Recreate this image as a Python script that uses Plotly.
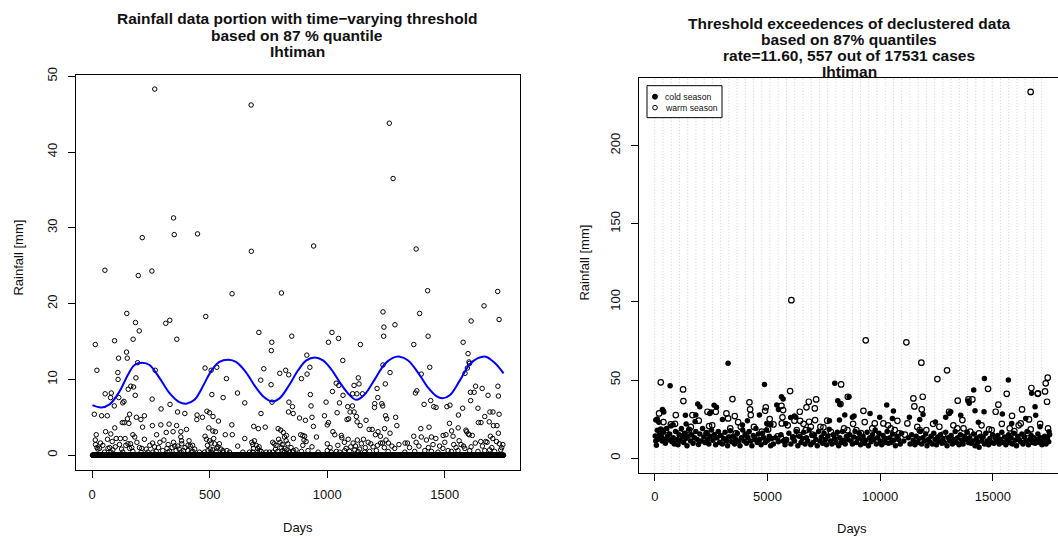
import plotly.graph_objects as go

W, H = 1058, 538
FONT = "Liberation Sans, Arial, Helvetica, sans-serif"

# ---------------- Left panel data (daily rainfall, days 1..1750) ----------------
n_days = 1750
# (day, rainfall mm) for wet days; all other days are 0
left_high = [(266,48.3),(676,46.2),(346,31.3),(349,29.1),(448,29.2),(213,28.7),(677,26.9),
             (54,24.4),(196,23.7),(254,24.3),(595,21.3),(805,21.4),(147,18.7),(483,18.3),
             (184,17.5),(313,17.4),(330,17.8),(200,16.4),(709,16.2),(360,15.3),(95,15.1),
             (174,15.3),(849,15.7),(13,14.6),(764,14.9),(146,13.6),(762,13.8),(112,12.8),
             (149,12.8),(193,12.2),(20,11.2),(480,11.5),(506,11.2),(530,11.6),(730,11.4),
             (823,11.2),(109,10.9),(268,11.2),(798,10.8),(836,10.6),(110,10.0),(186,10.2),
             (571,10.1),(717,9.9),(761,9.3),(164,9.1),(176,9.0),(153,8.7),(183,7.9),(255,7.4),
             (55,8.1),(81,8.2),(618,8.2),(509,8.0),(557,7.6),(78,7.6),(113,7.6),(94,6.5),
             (135,7.1),(130,6.9),(649,6.9),(765,7.0),(837,7.0),(852,6.4),(293,6.1),(331,6.7),
             (9,5.4),(40,5.2),(64,5.2),(159,5.4),(150,4.8),(188,5.0),(222,5.2),(207,4.7),
             (363,5.7),(394,5.5),(446,5.3),(469,5.0),(488,5.8),(499,5.6),(537,4.5),(445,4.7),
             (514,5.1),(718,5.5),(855,5.5),(835,5.7),(687,3.8),(707,3.5),(736,3.7),(791,3.5),
             (802,3.3),(594,4.0),(256,3.9),(292,4.0),(327,4.1),(359,3.9),(136,4.3),(156,4.2),
             (214,3.7),(96,3.6),(128,4.3),(57,3.1),(79,2.8),(17,2.7),(274,2.7),(315,3.0),
             (344,3.1),(377,3.1),(401,3.4),(496,3.6),(513,3.2),(524,3.1),(566,2.7),(596,2.7),
             (813,3.0),(826,2.6),(856,2.2)]
left_low = [(65,2.1),(102,2.2),(120,2.2),(140,2.2),(152,1.5),(163,1.5),(181,2.4),(173,2.7),
            (222,2.1),(201,1.0),(211,0.9),(257,1.6),(265,1.1),(288,1.7),(323,1.4),(340,1.0),
            (351,1.2),(364,1.2),(377,2.4),(380,1.9),(381,1.5),(388,0.6),(407,1.3),(417,1.2),
            (427,1.3),(480,2.5),(486,2.1),(499,1.9),(506,1.6),(517,2.2),(530,0.9),(541,1.5),
            (556,0.6),(573,0.6),(619,1.2),(649,2.2),(679,1.7),(683,1.4),(686,0.9),(704,0.9),
            (713,0.6),(768,1.7),(774,1.5),(782,1.3),(799,1.7),(804,1.0),(818,2.4),(825,1.9),
            (828,0.7),(856,0.6),(13,2.0),(14,1.4),(20,1.0),(31,0.9),(45,1.3),(67,0.9),(74,1.0),
            (88,0.7),(116,1.4),(159,0.9),(173,0.5),(272,0.5),(300,0.6),(329,0.5),(357,0.6),
            (407,0.6),(428,0.5),(456,0.4),(492,0.6),(513,0.7),(527,0.5),(584,0.4),(641,0.4),
            (669,0.4),(719,0.5),(754,0.4),(789,0.5),(811,0.6),(839,0.4),(867,0.7),
            (52,0.4),(80,0.4),(130,0.4),(208,0.4),(237,0.4),(258,0.4),(322,0.4),(378,0.4),
            (421,0.4),(478,0.4),(506,0.4),(556,0.4),(683,0.4),(704,0.4),(740,0.4),(768,0.4),
            (818,0.4),(853,0.4),
            (24,0.8),(35,1.6),(85,1.8),(98,1.1),(125,0.8),(143,1.3),(168,1.0),(190,1.7),
            (230,0.8),(245,1.3),(282,1.0),(305,2.0),(318,0.9),(346,1.7),(370,0.8),(395,1.0),
            (412,1.9),(436,0.8),(490,1.3),(502,0.8),(521,1.5),(535,1.1),(548,0.8),(690,1.9),
            (698,1.3),(710,1.1),(780,0.8),(793,2.1),(808,1.4),(820,0.9),(832,1.5),(846,1.0)]
right_high = [(1264,43.8),(1280,36.5),(942,27.6),(1378,27.2),(1427,21.7),(1725,21.6),(1667,19.7),
              (1393,18.7),(1237,18.9),(1731,17.9),(1612,17.7),(1288,17.2),(1241,16.9),(1020,16.2),
              (1240,15.7),(1429,15.7),(1048,15.4),(1005,14.9),(1368,14.6),(1141,14.6),(1578,14.9),
              (913,13.2),(1599,13.4),(1066,12.5),(1603,12.3),(1605,12.1),(1237,11.9),(1436,11.6),
              (926,11.6),(1596,11.5),(890,10.1),(914,10.7),(1132,10.2),(1267,10.9),(1400,10.7),
              (1586,10.8),(1038,9.5),(1049,9.2),(1247,9.4),(1726,9.1),(928,8.0),(1022,8.4),
              (1114,9.2),(1135,9.4),(1108,8.1),(1126,8.1),(1150,8.1),(1067,7.9),(1212,8.8),
              (1381,8.5),(1375,8.2),(1631,9.1),(1659,8.8),(1609,8.3),(1625,8.3),(1684,7.9),
              (1728,7.8),(1215,7.6),(1610,7.2),(1412,6.7),(1440,7.2),(1453,6.4),(1463,6.3),
              (931,6.5),(995,7.0),(1052,6.9),(1087,6.4),(1107,6.5),(1202,6.8),(1232,6.8),
              (1236,6.5),(1201,6.3),(1509,6.4),(1522,6.6),(1576,6.2),(1641,6.2),(1042,5.6),
              (1097,5.7),(1114,5.7),(882,4.9),(907,4.6),(935,5.0),(988,5.2),(1084,4.7),
              (1091,4.8),(1124,5.1),(1165,4.6),(1248,5.2),(1253,4.8),(1291,5.0),(1558,5.3),
              (1692,5.7),(1705,5.7),(1670,5.1),(1731,5.4),(1654,4.3),(1643,4.3),(1005,4.3),
              (1000,4.0),(1127,4.4),(1140,3.9),(1296,3.9),(1520,4.2),(1689,4.4),(1707,3.9),
              (1722,3.9),(941,3.8),(1398,3.5),(1433,3.7),(1529,3.2),(1557,3.6),(1590,3.3),
              (1728,2.9),(1178,3.4),(1191,3.4),(1216,3.1),(1244,3.5)]
right_low = [(887,2.7),(896,2.6),(904,2.5),(954,2.4),(901,2.0),(896,1.3),(1000,1.5),(1024,3.1),
             (1032,2.7),(1060,2.6),(1062,2.3),(1073,1.7),(1089,2.1),(1110,1.6),(1128,2.0),
             (1145,1.5),(1154,2.1),(1174,1.7),(1185,1.5),(1205,2.7),(1226,2.5),(1227,1.6),
             (1235,1.6),(1260,1.6),(1267,2.9),(1305,1.4),(1331,1.6),(1341,1.6),(1368,2.5),
             (1378,1.7),(1400,2.4),(1422,2.0),(1443,2.4),(1450,1.4),(1462,2.2),(1493,2.6),
             (1505,2.7),(1535,2.5),(1538,1.4),(1561,1.9),(1569,1.4),(1593,3.1),(1600,2.8),
             (1604,2.7),(1617,2.6),(1653,1.8),(1674,1.8),(1680,1.7),(1694,2.5),(1704,2.2),
             (1732,1.5),(1747,1.4),
             (890,0.5),(918,0.6),(961,0.4),(1000,0.6),(1017,0.4),(1039,0.5),(1053,0.4),(1074,0.6),
             (1095,0.5),(1117,0.7),(1131,0.5),(1159,0.4),(1180,0.5),(1209,0.6),(1259,0.5),
             (1287,0.9),(1330,0.4),(1372,0.5),(1415,0.6),(1443,0.5),(1471,0.4),(1492,0.9),
             (1514,0.6),(1528,0.5),(1556,0.6),(1585,0.9),(1606,0.6),(1641,0.5),(1670,0.6),
             (1691,0.7),(1712,0.5),(1738,0.7),
             (910,1.8),(935,1.1),(1012,1.0),(1045,1.3),(1080,0.9),(1100,1.1),(1120,1.2),
             (1138,0.8),(1162,1.0),(1195,1.1),(1214,1.3),(1243,1.0),(1250,2.0),(1275,1.2),
             (1350,1.0),(1390,1.2),(1430,1.0),(1478,1.2),(1500,1.7),(1548,1.0),(1580,1.2),
             (1612,1.1),(1630,1.6),(1660,1.2),(1700,1.0),(1720,1.8),(1742,1.0)]

# time-varying threshold (87 % quantile)
thr_days = [1,38,74,116,152,180,213,244,286,329,371,400,435,471,506,541,580,612,655,697,733,
            765,797,839,876,911,947,982,1018,1060,1096,1124,1159,1202,1244,1277,1308,1344,
            1386,1429,1464,1490,1521,1563,1606,1641,1674,1712,1750]
thr_vals = [6.6,6.3,6.7,8.4,10.6,11.9,12.2,11.9,10.2,8.2,7.0,6.8,7.3,9.1,11.1,12.3,12.6,12.3,
            10.9,8.9,7.6,7.1,7.5,9.3,11.2,12.5,12.9,12.5,11.3,9.3,7.9,7.3,8.0,10.0,12.0,12.8,
            13.0,12.5,10.9,8.9,7.8,7.5,7.9,9.8,12.0,12.8,13.0,12.2,10.8]

# ---------------- Right panel data (declustered exceedances, days 1..17531) ----------------
cold_high = [(3254,60.7),(680,46.4),(4867,47.2),(7988,47.9),(340,31.2),(370,30.3),(400,29.5),
             (1908,34.6),(1997,32.9),(2633,33.8),(2737,32.5),(2500,29.5),(2441,28.6),(5414,34.0),
             (5488,31.2),(5621,39.3),(5695,37.8),(6198,26.9),(8121,36.8),(8210,34.5),(8432,27.6),
             (7751,23.9),(8195,24.4),(4645,27.6),(4112,23.9),(1361,27.4),(1820,27.6),(44,24.4),
             (110,25.0),(180,23.0),(814,21.4),(1391,21.8),(1790,23.5),(3003,24.8),(3891,21.2),
             (4970,22.2),(5148,21.6),(5814,22.2),(6257,26.1),(6030,26.0),
             (8622,39.3),(8770,26.1),(8844,26.9),(9553,28.6),(10293,34.0),(9982,26.1),(10589,30.1),
             (10544,25.4),(11298,26.1),(11757,24.8),(11905,28.0),(12452,23.1),(12910,26.1),
             (13132,29.7),(13070,28.5),(13576,27.4),(13901,36.5),(13950,35.2),(14212,30.3),
             (14611,29.7),(14360,22.9),(15425,28.2),(15839,22.2),(16460,25.4),(16903,27.4),
             (16874,32.9),(17096,20.1),(17495,16.9),(14626,50.9),(15690,50.0),(14153,43.6),
             (16726,41.5)]
cold_band = [(20,14.1),(45,10.9),(70,8.3),(110,17.9),(160,12.6),(210,15.8),(260,18.6),(300,13.5),
             (330,11.0),(380,16.5),(420,12.0),(470,9.5),(520,19.0),(560,14.0),(610,11.8),(660,15.5),
             (720,20.5),(760,10.5),(820,13.0),(870,9.0),(920,17.0),(980,12.0),(1030,8.5),(1080,15.0),
             (1130,11.0),(1180,19.0),(1220,13.5),(1280,10.0),(1330,16.0),(1380,12.5),(1430,8.0),
             (1480,14.0),(1530,18.5),(1590,11.0),(1640,15.0),(1700,9.5),(1760,13.0),(1820,17.0),
             (1880,12.0),(1940,8.8),(2000,15.5),(2060,11.0),(2120,19.0),(2180,13.5),(2230,10.0),
             (2290,16.0),(2350,12.0),(2400,9.0),(2460,14.0),(2520,18.0),(2580,11.5),(2640,15.0),
             (2700,8.5),(2760,13.0),(2820,17.0),(2880,10.0),(2940,14.5),(3000,9.0),(3060,12.5),
             (3120,16.5),(3180,11.0),(3230,8.0),(3290,13.5),(3350,17.5),(3410,10.5),(3480,14.0),
             (3540,9.0),(3600,12.0),(3660,16.0),(3720,10.5),(3780,8.0),(3840,13.0),(3900,18.0),
             (3960,11.0),(4010,15.0),(4070,9.5),(4130,13.0),(4190,17.0),(4250,11.0),(4310,8.0),
             (4370,14.5),(4430,12.0),(4490,19.0),(4550,10.0),(4600,15.5),(4660,12.0),(4720,8.5),
             (4780,16.0),(4840,13.0),(4900,10.0),(4960,18.0),(5020,11.5),(5080,14.0),(5140,8.0),
             (5190,12.5),(5260,9.0),(5360,13.0),(5480,10.5),(5600,15.0),(5700,11.0),(5780,8.5),
             (5850,12.0),(5950,16.0),(6040,9.0),(6120,13.5),(6200,11.0),(6280,17.0),(6350,8.0),
             (6430,14.0),(6490,10.0),(6550,12.5),(6610,16.5),(6670,9.0),(6730,13.0),(6790,11.0),
             (6850,18.0),(6920,8.5),(6980,14.5),(7030,10.0),(7090,15.0),(7150,12.0),(7210,8.0),
             (7270,17.0),(7330,11.0),(7390,13.5),(7450,9.5),(7510,16.0),(7570,12.0),(7620,8.5),
             (7680,14.0),(7740,18.5),(7800,11.0),(7860,9.0),(7920,15.0),(7980,12.5),(8040,10.0),
             (8100,16.5),(8160,8.0),(8210,13.0),(8270,10.0),(8330,17.0),(8390,11.5),(8450,9.0),
             (8510,14.0),(8570,12.0),(8650,15.0),(8710,11.0),(8770,9.0),(8830,13.5),(8890,17.0),
             (8950,10.0),(9010,12.5),(9070,16.0),(9130,8.5),(9190,12.0),(9240,14.0),(9300,9.5),
             (9360,11.5),(9420,16.5),(9480,8.0),(9540,13.0),(9600,10.5),(9660,15.0),(9720,12.0),
             (9780,18.0),(9830,9.0),(9890,13.0),(9950,16.0),(10010,11.0),(10070,8.5),(10130,14.5),
             (10190,10.0),(10250,12.5),(10310,17.0),(10370,9.5),(10430,13.0),(10490,10.0),
             (10550,15.5),(10610,11.5),(10680,8.0),(10750,14.0),(10820,12.0),(10890,9.0),
             (10950,16.0),(11050,11.0),(11250,13.0),(11330,9.0),(11400,15.0),(11470,11.5),
             (11540,8.5),(11600,14.0),(11660,10.0),(11720,12.5),(11780,17.0),(11840,9.0),
             (11900,13.0),(11960,11.0),(12020,15.5),(12080,8.0),(12140,12.0),(12200,10.5),
             (12260,14.0),(12320,9.0),(12380,16.0),(12440,12.0),(12500,8.5),(12560,13.5),
             (12620,11.0),(12680,15.0),(12740,9.5),(12790,12.5),(12850,10.0),(12910,16.5),
             (12970,8.0),(13030,13.0),(13090,11.0),(13150,14.5),(13210,9.0),(13270,12.0),
             (13330,17.0),(13380,10.0),(13440,13.0),(13500,8.5),(13560,15.0),(13620,11.5),
             (13680,9.0),(13740,14.0),(13800,12.0),(13860,16.5),(13920,10.0),(13970,13.0),
             (14030,9.5),(14090,11.0),(14150,15.5),(14210,8.0),(14270,12.5),(14330,10.0),
             (14390,7.0),(14450,14.0),(14510,11.0),(14570,13.5),(14630,9.0),(14690,16.0),
             (14750,11.0),(14810,8.5),(14870,12.5),(14930,10.0),(14990,15.0),(15050,9.5),
             (15110,13.0),(15160,11.0),(15220,14.5),(15280,9.0),(15340,12.0),(15400,16.5),
             (15460,10.0),(15520,13.5),(15580,8.5),(15640,12.0),(15700,15.0),(15750,10.0),
             (15810,13.0),(15870,9.0),(15930,16.0),(15990,11.5),(16050,8.0),(16110,14.0),
             (16170,12.0),(16230,10.5),(16290,15.5),(16340,9.0),(16400,13.5),(16460,11.0),
             (16520,17.0),(16580,8.5),(16640,12.0),(16700,14.5),(16760,10.0),(16820,13.0),
             (16880,9.5),(16940,12.0),(17000,15.5),(17060,10.0),(17120,13.0),(17180,8.5),
             (17240,11.5),(17300,14.0),(17360,9.0),(17420,12.5),(17480,10.5),(17520,15.0)]
warm_high = [(6061,101.1),(16680,234.4),(9361,75.4),(11165,74.1),(11830,61.1),(12969,56.2),
             (12540,50.6),(14789,44.4),(15617,41.2),(16711,44.9),(17007,41.5),(17347,47.9),
             (17436,51.5),(17318,42.7),(17406,36.1),
             (266,48.5),(1257,44.0),(1270,36.5),(932,27.6),(3447,37.8),(3180,28.6),(3550,26.9),
             (3254,25.4),(4201,35.7),(4231,31.2),(4260,27.6),(4926,32.5),(4896,30.3),(6006,42.9),
             (5621,33.5),(5695,30.8),(5666,26.1),(5636,22.2),(6198,24.0),(6435,29.7),(6731,32.5),
             (6834,36.1),(7160,37.6),(7101,31.8),(6450,23.9),(7115,24.4),(6849,23.3),(8269,47.2),
             (8240,34.6),(8565,39.3),(2707,29.7),(2337,29.7),(1672,27.6),(710,21.6),(385,23.1),
             (192,28.6),(9258,30.3),(9317,23.1),(9761,22.2),(10145,22.2),(10766,23.9),
             (11476,38.2),(11520,33.1),(11890,39.3),(11846,31.2),(11210,22.2),(13443,36.8),
             (13917,37.6),(14094,37.6),(13650,24.4),(13058,29.7),(12629,20.1),(15128,29.7),
             (15247,34.2),(15853,27.1),(16297,31.2),(16238,22.2),(16607,24.8),(16991,41.2)]
warm_band = [(488,11.5),(3299,13.0),(3595,15.8),(3817,20.1),(5030,18.4),(5266,21.6),(5592,13.2),
             (6405,14.7),(6701,17.9),(6923,20.1),(7485,19.7),(7811,16.9),(8550,17.9),(2411,20.5),
             (1524,17.9),(1124,15.8),(784,11.5),(2707,14.7),(4630,14.1),(5814,11.5),(6139,13.2),
             (8947,17.9),(9805,14.7),(10471,19.0),(10840,15.8),(11757,17.9),(13428,19.0),
             (14389,15.8),(14833,18.4),(15957,17.3),(16681,18.4),(150,12.5),(500,18.0),(900,22.0),
             (1150,14.0),(1600,20.0),(1950,24.0),(2300,16.0),(2550,21.0),(2900,13.0),(3350,19.0),
             (3700,23.0),(4050,15.0),(4400,20.0),(4750,17.0),(5100,25.0),(5450,14.0),(5900,21.0),
             (6300,18.0),(6600,22.0),(7000,15.0),(7350,20.0),(7650,24.0),(8050,13.0),(8400,19.0),
             (8800,22.0),(9150,16.0),(9650,19.0),(10000,13.0),(10350,21.0),(10650,18.0),
             (11100,15.0),(11650,20.0),(12050,18.0),(12350,22.0),(12800,15.0),(13250,21.0),
             (13700,19.0),(14000,17.0),(14500,21.0),(14950,18.0),(15400,22.0),(15750,19.0),
             (16150,21.0),(16550,16.0),(17100,22.0),(17450,19.0)]

left_xticks = [0, 500, 1000, 1500]
left_yticks = [0, 10, 20, 30, 40, 50]
right_xticks = [0, 5000, 10000, 15000]
right_yticks = [0, 50, 100, 150, 200]
year_len = 365.25
n_years = 48

# ---------------- build ----------------
wet = left_high + left_low + right_high + right_low
wet_days = set(d for d, _ in wet)
dry_days = [d for d in range(1, n_days + 1) if d not in wet_days]

cold = cold_high + cold_band
warm = warm_high + warm_band

def px_x(p):
    return p / W

# the page is photographed with a small vertical offset/compression; compensate
V_OFF, V_SCALE = 7.25, 0.986

def px_y(p):
    return 1 - ((p - V_OFF) / V_SCALE) / H

fig = go.Figure()
open_marker = dict(symbol="circle-open", size=4.5, color="black", line=dict(width=1, color="black"))
fig.add_trace(go.Scatter(x=dry_days, y=[0] * len(dry_days), mode="markers", marker=open_marker,
                         xaxis="x", yaxis="y", showlegend=False))
fig.add_trace(go.Scatter(x=[d for d, _ in wet], y=[v for _, v in wet], mode="markers",
                         marker=open_marker, xaxis="x", yaxis="y", showlegend=False))
fig.add_trace(go.Scatter(x=thr_days, y=thr_vals, mode="lines", line=dict(color="#0000FF", width=2, shape="spline"),
                         xaxis="x", yaxis="y", showlegend=False))

fig.add_trace(go.Scatter(x=[d for d, _ in cold], y=[v for _, v in cold], mode="markers",
                         marker=dict(symbol="circle", size=5.5, color="black"),
                         xaxis="x2", yaxis="y2", showlegend=False))
fig.add_trace(go.Scatter(x=[d for d, _ in warm], y=[v for _, v in warm], mode="markers",
                         marker=dict(symbol="circle-open", size=5.5, color="black", line=dict(width=1.2, color="black")),
                         xaxis="x2", yaxis="y2", showlegend=False))

axis_common = dict(showgrid=False, zeroline=False, ticks="outside", ticklen=7, tickwidth=1,
                   tickcolor="black", linecolor="black", linewidth=1, showline=True,
                   tickfont=dict(family=FONT, size=13, color="#111"))

fig.update_layout(
    width=W, height=H, margin=dict(l=0, r=0, t=0, b=0),
    paper_bgcolor="white", plot_bgcolor="white",
    xaxis=dict(domain=[px_x(76), px_x(520)], range=[-69, 1820], tickvals=left_xticks,
               ticktext=[str(v) for v in left_xticks],
               mirror=True, anchor="y", ticklabelstandoff=5, **axis_common),
    yaxis=dict(domain=[px_y(470), px_y(74)], range=[-2.0, 50.2], tickvals=left_yticks,
               ticktext=[str(v) for v in left_yticks],
               mirror=True, anchor="x", tickangle=-90, ticklabelstandoff=6, **axis_common),
    xaxis2=dict(domain=[px_x(639), 1.0], range=[-700, 17893], tickvals=right_xticks,
                ticktext=[str(v) for v in right_xticks],
                mirror=True, anchor="y2", ticklabelstandoff=5, **axis_common),
    yaxis2=dict(domain=[px_y(472.5), px_y(77)], range=[-9.4, 243.5], tickvals=right_yticks,
                ticktext=[str(v) for v in right_yticks],
                mirror=False, anchor="x2", tickangle=-90, ticklabelstandoff=6, **axis_common),
)

# yearly dotted grid on right panel
shapes = []
for k in range(n_years):
    xv = k * year_len
    shapes.append(dict(type="line", xref="x2", yref="y2 domain", x0=xv, x1=xv, y0=0, y1=1,
                       line=dict(color="#cfcfcf", width=1, dash="1px,2px"), layer="below"))
# legend box
shapes.append(dict(type="rect", xref="paper", yref="paper", x0=px_x(647), x1=px_x(722),
                   y0=px_y(117), y1=px_y(85), line=dict(color="black", width=1), fillcolor="white"))
shapes.append(dict(type="circle", xref="paper", yref="paper", xsizemode="pixel", ysizemode="pixel",
                   xanchor=px_x(655), yanchor=px_y(96), x0=-2.5, x1=2.5, y0=-2.5, y1=2.5,
                   fillcolor="black", line=dict(color="black", width=1)))
shapes.append(dict(type="circle", xref="paper", yref="paper", xsizemode="pixel", ysizemode="pixel",
                   xanchor=px_x(655), yanchor=px_y(107), x0=-2.3, x1=2.3, y0=-2.3, y1=2.3,
                   fillcolor="white", line=dict(color="black", width=1)))
fig.update_layout(shapes=shapes)

ann = []
def text(x, y, s, size, bold=False, angle=0):
    ann.append(dict(x=px_x(x), y=px_y(y), xref="paper", yref="paper", text=("<b>%s</b>" % s) if bold else s,
                    showarrow=False, xanchor="center", yanchor="middle", textangle=angle,
                    font=dict(family=FONT, size=size, color="#111")))

for s, y in zip(["Rainfall data portion with time\u2212varying threshold", "based on 87 % quantile", "Ihtiman"],
                [18, 34.5, 51]):
    text(297, y, s, 15.5, bold=True)
for s, y in zip(["Threshold exceedences of declustered data", "based on 87% quantiles",
                 "rate=11.60, 557 out of 17531 cases", "Ihtiman"], [23, 39, 55, 70.5]):
    text(849, y, s, 15.5, bold=True)
text(298, 527, "Days", 13)
text(852, 528, "Days", 13)
text(19, 257, "Rainfall [mm]", 13, angle=-90)
text(585, 262, "Rainfall [mm]", 13, angle=-90)
ann.append(dict(x=px_x(663), y=px_y(96), xref="paper", yref="paper", text="cold season", showarrow=False,
                xanchor="left", yanchor="middle", font=dict(family=FONT, size=8.7, color="#111")))
ann.append(dict(x=px_x(663), y=px_y(107), xref="paper", yref="paper", text="warm season", showarrow=False,
                xanchor="left", yanchor="middle", font=dict(family=FONT, size=8.7, color="#111")))
fig.update_layout(annotations=ann)

fig.write_html("out.html", config={"displayModeBar": False},
               post_script="document.body.style.margin='0';document.body.style.overflow='hidden';")
